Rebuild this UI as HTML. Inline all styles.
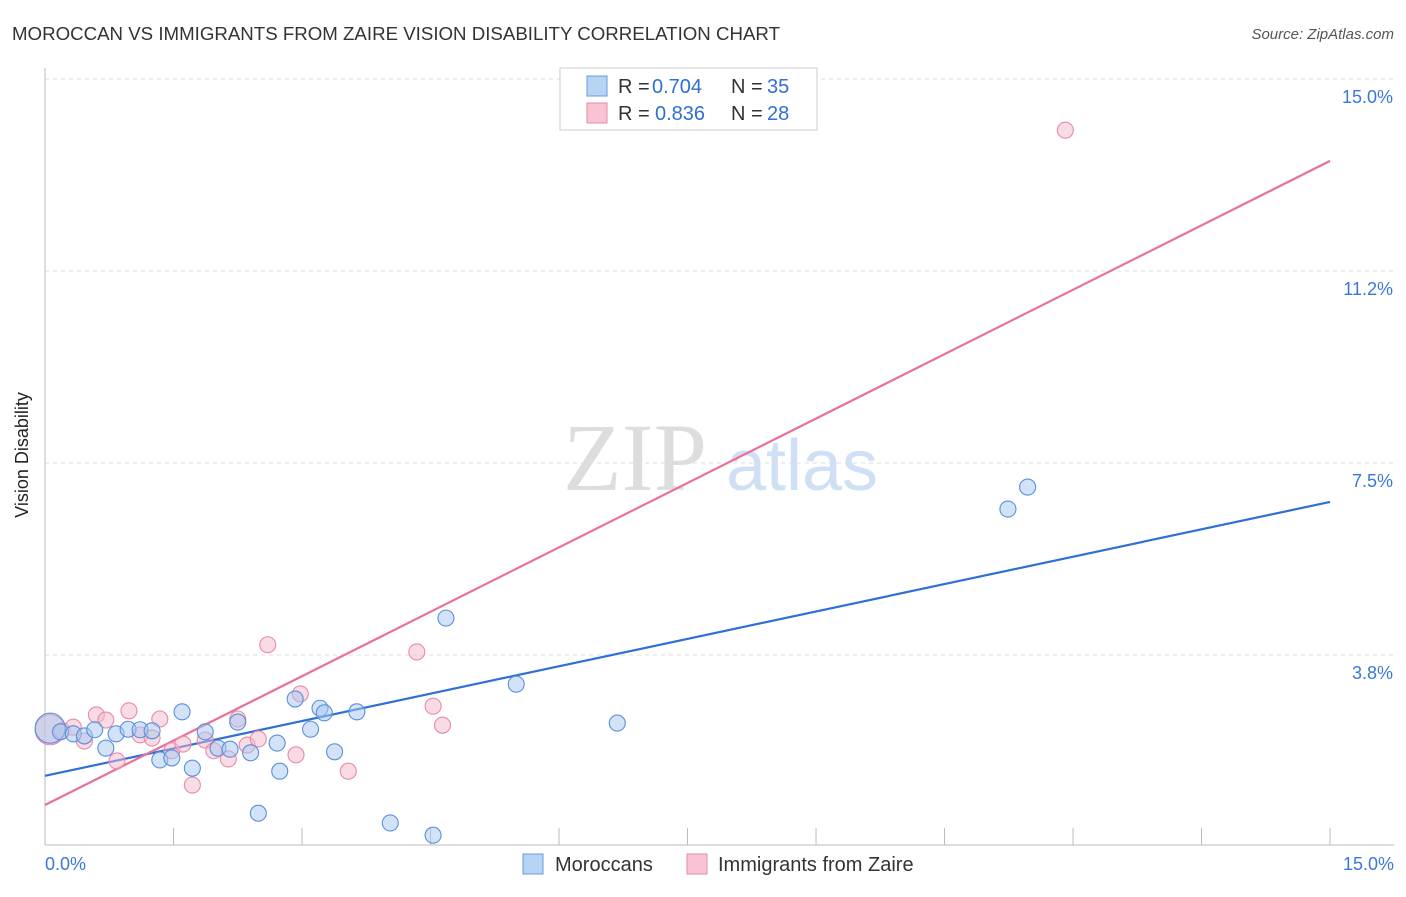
<!DOCTYPE html>
<html><head><meta charset="utf-8"><style>
body{margin:0;background:#fff;font-family:"Liberation Sans",sans-serif;}
svg text{font-family:"Liberation Sans",sans-serif;}
</style></head><body>
<svg id="chart" width="1406" height="892" viewBox="0 0 1406 892" xmlns="http://www.w3.org/2000/svg">
<text x="12" y="40" font-size="18" fill="#333" textLength="768" lengthAdjust="spacingAndGlyphs">MOROCCAN VS IMMIGRANTS FROM ZAIRE VISION DISABILITY CORRELATION CHART</text>
<text x="1394" y="39" font-size="15" fill="#555" text-anchor="end" font-style="italic">Source: ZipAtlas.com</text>
<text x="28" y="455" font-size="18" fill="#222" text-anchor="middle" transform="rotate(-90 28 455)">Vision Disability</text>
<g><text x="635" y="490" font-size="96" fill="#ddd" text-anchor="middle" font-family="Liberation Serif" style="font-family:'Liberation Serif',serif">ZIP</text><text x="802" y="490" font-size="72" fill="#cfe0f5" text-anchor="middle">atlas</text></g>
<g id="grid"></g><g id="axes"></g><g id="lines"></g><g id="points"></g>
<g>
<rect x="560" y="68" width="257" height="62" fill="#fff" stroke="#ccc"/>
<rect x="587" y="76" width="20" height="20" fill="#b8d4f4" stroke="#6a9be0"/>
<text x="618" y="93" font-size="20" fill="#333">R =</text>
<text x="652" y="93" font-size="20" fill="#2f6fd6">0.704</text>
<text x="731" y="93" font-size="20" fill="#333">N =</text>
<text x="767" y="93" font-size="20" fill="#2f6fd6">35</text>
<rect x="587" y="103" width="20" height="20" fill="#f8c4d4" stroke="#e88aa8"/>
<text x="618" y="120" font-size="20" fill="#333">R =</text>
<text x="655" y="120" font-size="20" fill="#2f6fd6">0.836</text>
<text x="731" y="120" font-size="20" fill="#333">N =</text>
<text x="767" y="120" font-size="20" fill="#2f6fd6">28</text>
</g>
<g>
<rect x="523" y="854" width="20" height="20" fill="#b8d4f4" stroke="#6a9be0"/>
<text x="555" y="871" font-size="20" fill="#333">Moroccans</text>
<rect x="687" y="854" width="20" height="20" fill="#f8c4d4" stroke="#e88aa8"/>
<text x="718" y="871" font-size="20" fill="#333">Immigrants from Zaire</text>
</g>
</svg>
<script>
const blueX=[0.06,0.18,0.33,0.46,0.58,0.71,0.83,0.97,1.11,1.25,1.34,1.48,1.60,1.72,1.87,2.02,2.16,2.25,2.40,2.49,2.71,2.74,2.92,3.10,3.21,3.26,3.38,3.64,4.03,4.53,4.68,5.50,6.68,11.24,11.47];
const blueY=[2.32,2.25,2.21,2.17,2.29,1.93,2.21,2.30,2.29,2.27,1.70,1.74,2.64,1.54,2.25,1.93,1.91,2.44,1.84,0.66,2.03,1.48,2.89,2.30,2.71,2.62,1.86,2.64,0.47,0.23,4.47,3.18,2.42,6.60,7.03];
const pinkX=[0.06,0.20,0.33,0.46,0.60,0.71,0.84,0.98,1.11,1.25,1.34,1.48,1.61,1.72,1.87,1.97,2.14,2.25,2.36,2.49,2.60,2.93,2.98,3.54,4.34,4.53,4.64,11.91];
const pinkY=[2.29,2.27,2.34,2.07,2.58,2.48,1.68,2.66,2.19,2.13,2.50,1.88,2.01,1.21,2.09,1.88,1.72,2.50,1.99,2.11,3.95,1.80,2.99,1.48,3.81,2.75,2.38,14.00];
const blueLine=[1.39,6.74];
const pinkLine=[0.82,13.4];
const yTicks=[15.0,11.25,7.5,3.75];
const yTickLabels=["15.0%","11.2%","7.5%","3.8%"];
const xTicks=[0,1.5,3,4.5,6,7.5,9,10.5,12,13.5,15];
const NS="http://www.w3.org/2000/svg";
const sx=v=>45+v*85.67, sy=v=>847-v*51.2;
function mk(p,t,a){const e=document.createElementNS(NS,t);for(const k in a)e.setAttribute(k,a[k]);document.getElementById(p).appendChild(e);return e;}
yTicks.forEach((t,i)=>{
 const l=mk('grid','line',{x1:45,x2:1394,y1:sy(t),y2:sy(t),stroke:'#ddd','stroke-dasharray':'4,4'});
 
 
 const tx=mk('grid','text',{x:1393,y:sy(t)+24,'font-size':18,fill:'#3a78d8','text-anchor':'end'});
 tx.textContent=yTickLabels[i];
 
 
});
const ax=mk('axes','line',{x1:45,x2:1394,y1:845,y2:845,stroke:'#bbb'});


const ay=mk('axes','line',{x1:45,x2:45,y1:68,y2:845,stroke:'#bbb'});


xTicks.forEach(t=>{
 const l=mk('axes','line',{x1:sx(t),x2:sx(t),y1:828,y2:845,stroke:'#bbb'});
 
 
});
const xl0=mk('axes','text',{x:45,y:870,'font-size':18,fill:'#3a78d8'});xl0.textContent='0.0%';


const xl1=mk('axes','text',{x:1394,y:870,'font-size':18,fill:'#3a78d8','text-anchor':'end'});xl1.textContent='15.0%';


function pts(X,Y,fill,stroke,name){
 X.forEach((x,i)=>{
  const c=mk('points','circle',{cx:sx(x),cy:sy(Y[i]),r:i===0?15:8,fill:fill,'fill-opacity':0.5,stroke:stroke,'stroke-width':1.1});
  
  
 });
}
pts(pinkX,pinkY,'#f4b8cc','#e88aa8','zaire-point');
pts(blueX,blueY,'#a8c8f0','#5a8fdc','moroccan-point');
const bl=mk('lines','line',{x1:sx(0),y1:sy(blueLine[0]),x2:sx(15),y2:sy(blueLine[1]),stroke:'#2f6fd6','stroke-width':2.2});


const pl=mk('lines','line',{x1:sx(0),y1:sy(pinkLine[0]),x2:sx(15),y2:sy(pinkLine[1]),stroke:'#e8719a','stroke-width':2.2});


</script>
</body></html>
